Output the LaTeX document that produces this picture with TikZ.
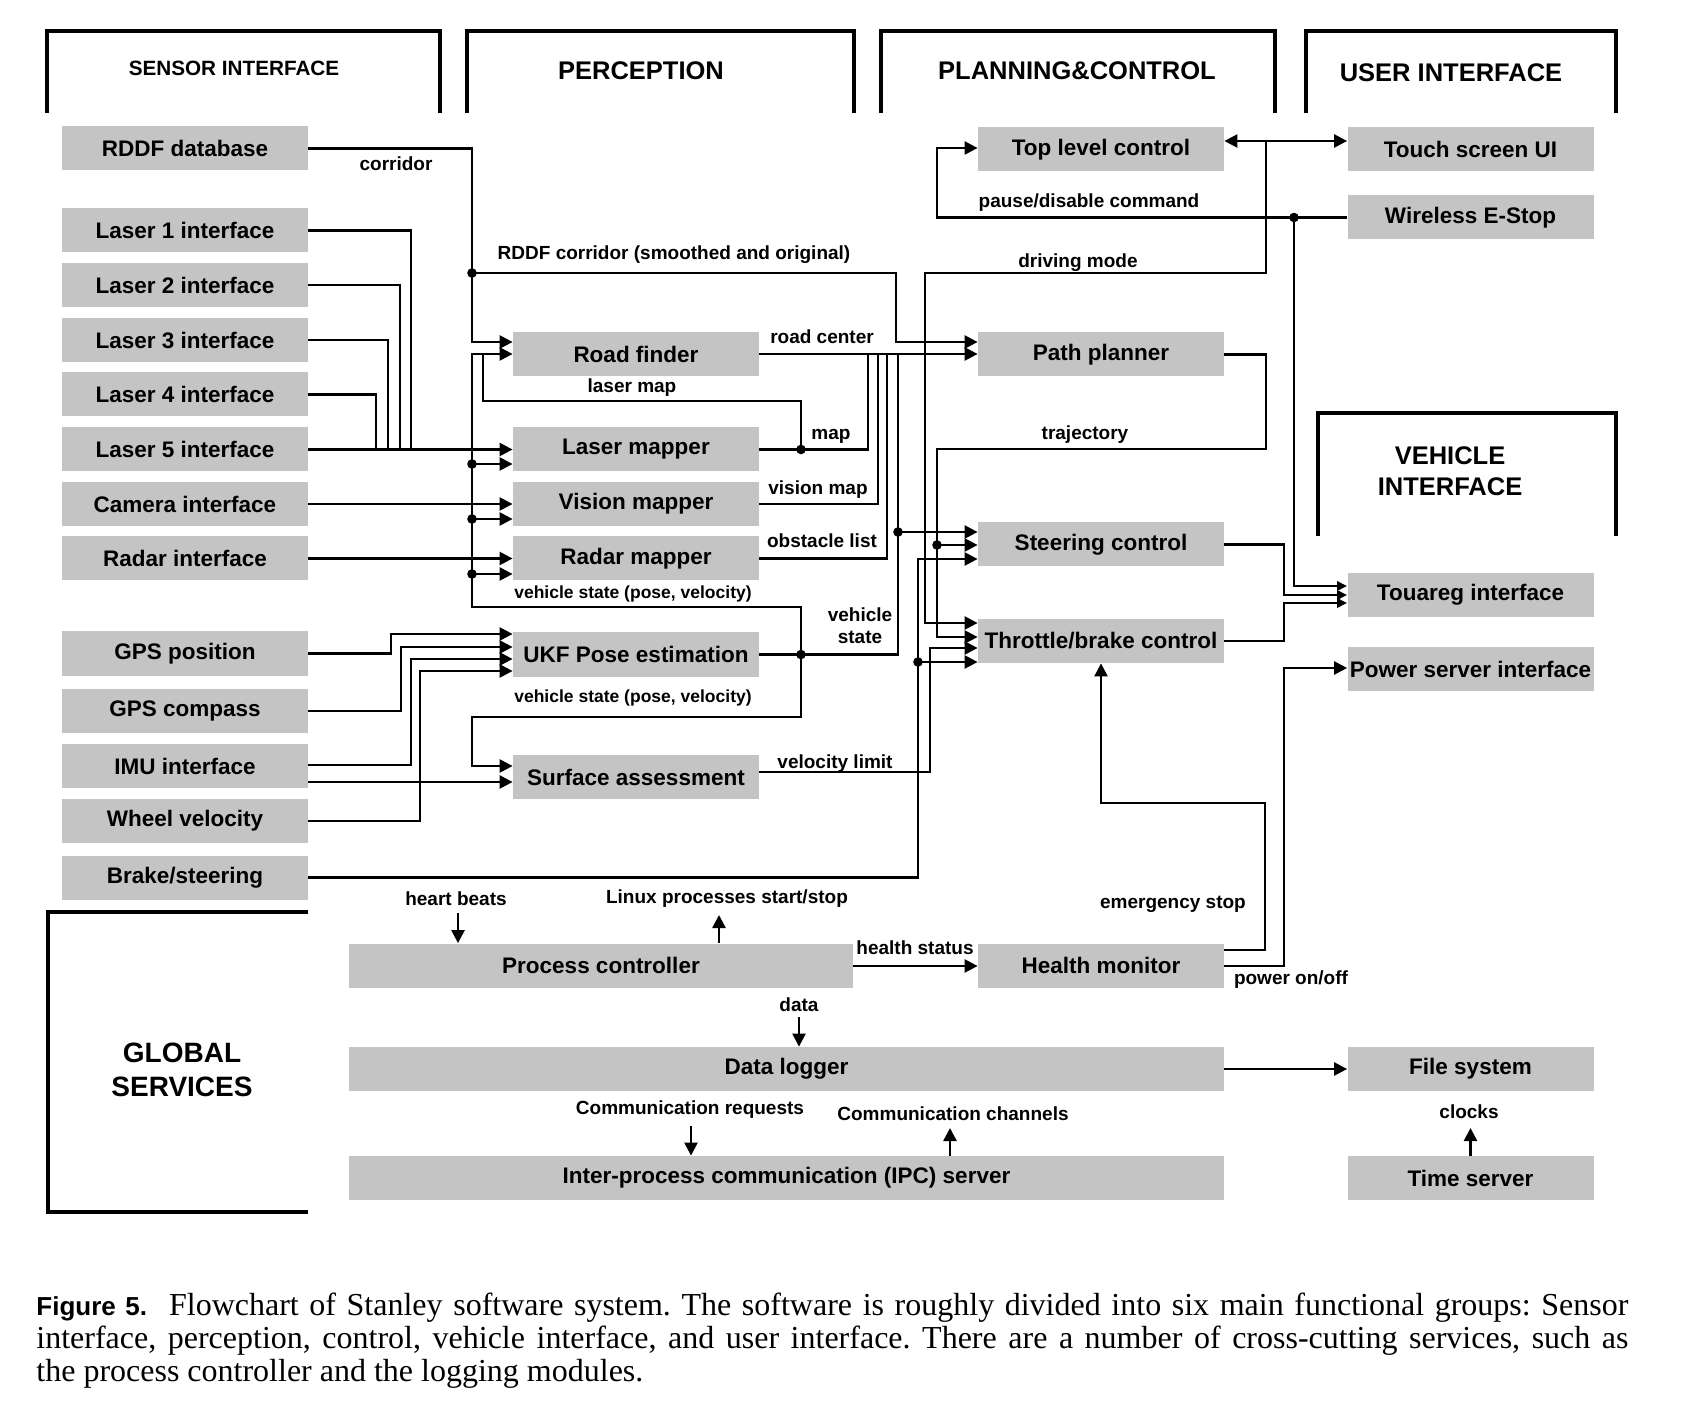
\documentclass[tikz,border=0pt]{standalone}
\usepackage{fontspec}
\setsansfont{Liberation Sans}
\newfontfamily\capserif{Liberation Serif}
\usetikzlibrary{arrows.meta,calc}
\definecolor{boxgray}{RGB}{196,196,196}
\begin{document}
\frenchspacing
\begin{tikzpicture}[x=0.5pt,y=-0.5pt,
  box/.style={fill=boxgray, inner sep=0pt, minimum height=22pt, minimum width=123pt,
    font=\sffamily\bfseries\fontsize{11.25}{13}\selectfont},
  wbox/.style={box, minimum width=437.5pt},
  hdr/.style={inner sep=0pt, font=\sffamily\bfseries\fontsize{12.75}{15.5}\selectfont},
  lbl/.style={inner sep=0pt, font=\sffamily\bfseries\fontsize{9.5}{11}\selectfont},
  slbl/.style={inner sep=0pt, font=\sffamily\bfseries\fontsize{8.75}{11}\selectfont},
  ln/.style={line width=1.2pt, black},
  arr/.style={ln, -{Triangle[length=6.5pt,width=6.5pt]}},
  sarr/.style={ln, -{Triangle[length=5pt,width=4.6pt]}},
  dbl/.style={ln, {Triangle[length=6.5pt,width=6.5pt]}-{Triangle[length=6.5pt,width=6.5pt]}},
  brk/.style={line width=2pt, black}
]
\useasboundingbox (0,0) rectangle (1688,1428);

% group brackets
\draw[brk] (47,113) -- (47,31) -- (440,31) -- (440,113);
\draw[brk] (467,113) -- (467,31) -- (854,31) -- (854,113);
\draw[brk] (881,113) -- (881,31) -- (1275,31) -- (1275,113);
\draw[brk] (1306,113) -- (1306,31) -- (1616,31) -- (1616,113);
\draw[brk] (1318,536) -- (1318,413) -- (1616,413) -- (1616,536);
\draw[brk] (308,912) -- (48,912) -- (48,1212) -- (308,1212);

\node[hdr, font=\sffamily\bfseries\fontsize{10.35}{12}\selectfont] (hsens) at (234,68) {SENSOR INTERFACE};
\node[hdr] (hperc) at (641,71) {PERCEPTION};
\node[hdr] (hplan) at (1077,71) {PLANNING\&CONTROL};
\node[hdr] (hui) at (1451,73) {USER INTERFACE};
\node[hdr, align=center] (hveh) at (1450,471) {VEHICLE\\INTERFACE};
\node[hdr, align=center, font=\sffamily\bfseries\fontsize{14}{17}\selectfont] (hglob) at (182,1070) {GLOBAL\\SERVICES};

% sensor interface
\node[box] (rddf) at (185,148.5) {RDDF database};
\node[box] (l1) at (185,230.5) {Laser 1 interface};
\node[box] (l2) at (185,285) {Laser 2 interface};
\node[box] (l3) at (185,340) {Laser 3 interface};
\node[box] (l4) at (185,394.5) {Laser 4 interface};
\node[box] (l5) at (185,449.5) {Laser 5 interface};
\node[box] (cam) at (185,504) {Camera interface};
\node[box] (radar) at (185,558.5) {Radar interface};
\node[box] (gpsp) at (185,653.5) {GPS position};
\node[box] (gpsc) at (185,711) {GPS compass};
\node[box] (imu) at (185,766) {IMU interface};
\node[box] (wheel) at (185,821) {Wheel velocity};
\node[box] (brake) at (185,877.5) {Brake/steering};

% perception
\node[box] (road) at (636,354) {Road finder};
\node[box] (lmap) at (636,449.5) {Laser mapper};
\node[box] (vmap) at (636,504) {Vision mapper};
\node[box] (rmap) at (636,558.5) {Radar mapper};
\node[box] (ukf) at (636,654.5) {UKF Pose estimation};
\node[box] (surf) at (636,777) {Surface assessment};

% planning & control
\node[box] (top) at (1101,149.5) {Top level control};
\node[box] (path) at (1101,354.5) {Path planner};
\node[box] (steer) at (1101,544.5) {Steering control};
\node[box] (throttle) at (1101,641) {Throttle/brake control};
\node[box] (health) at (1101,965.5) {Health monitor};

% user / vehicle interface
\node[box] (touch) at (1470.5,149.5) {Touch screen UI};
\node[box] (estop) at (1470.5,217.5) {Wireless E-Stop};
\node[box] (touareg) at (1470.5,595) {Touareg interface};
\node[box] (power) at (1470.5,669) {Power server interface};
\node[box] (files) at (1470.5,1069) {File system};
\node[box] (time) at (1470.5,1178) {Time server};

% global services
\node[box, minimum width=252pt] (proc) at (601,965.5) {Process controller};
\node[wbox] (logger) at (786.5,1069) {Data logger};
\node[wbox] (ipc) at (786.5,1178) {Inter-process communication (IPC) server};

% labels
\node[lbl] (tcorr) at (396,164) {corridor};
\node[lbl] (trddf) at (674,255) {RDDF corridor (smoothed and original)};
\node[lbl] (tdrive) at (1078,263) {driving mode};
\node[lbl] (tpause) at (1089,203) {pause/disable command};
\node[lbl] (troad) at (822,337) {road center};
\node[lbl] (tlmap) at (632,388) {laser map};
\node[lbl] (tmap) at (831,436) {map};
\node[lbl] (tvis) at (818,490) {vision map};
\node[lbl] (tobs) at (822,541) {obstacle list};
\node[slbl] (tvs1) at (633,594) {vehicle state (pose, velocity)};
\node[lbl, align=center] (tvs) at (860,626) {vehicle\\state};
\node[slbl] (tvs2) at (633,698) {vehicle state (pose, velocity)};
\node[lbl] (ttraj) at (1085,435) {trajectory};
\node[lbl] (tvel) at (835,764) {velocity limit};
\node[lbl] (thb) at (456,899) {heart beats};
\node[lbl] (tlinux) at (727,899) {Linux processes start/stop};
\node[lbl] (thealth) at (915,948) {health status};
\node[lbl] (temerg) at (1173,904) {emergency stop};
\node[lbl] (tpower) at (1291,980) {power on/off};
\node[lbl] (tdata) at (799,1005) {data};
\node[lbl] (treq) at (690,1110) {Communication requests};
\node[lbl] (tchan) at (953,1114) {Communication channels};
\node[lbl] (tclk) at (1469,1112) {clocks};

% corridor
\draw[arr] (rddf.east) -| (472,342) -- (road.west |- 0,342);
\draw[arr] (472,273) -| (896,342) -- (path.west |- 0,342);

% lasers
\draw[ln] (l1.east) -| (411,449.5);
\draw[ln] (l2.east) -| (400,449.5);
\draw[ln] (l3.east) -| (388,449.5);
\draw[ln] (l4.east) -| (376,449.5);
\draw[arr] (l5.east) -- (lmap.west);
\draw[arr] (cam.east) -- (vmap.west);
\draw[arr] (radar.east) -- (rmap.west);

% vehicle state bus
\draw[ln] (ukf.east) -- (898,654.5) -- (898,354);
\draw[arr] (801,654.5) |- (472,607) |- (road.west |- 0,354);
\draw[arr] (472,464) -- (lmap.west |- 0,464);
\draw[arr] (472,519) -- (vmap.west |- 0,519);
\draw[arr] (472,574) -- (rmap.west |- 0,574);
\draw[arr] (801,654.5) |- (472,717) |- (surf.west |- 0,766);

% maps to road center line
\draw[ln] (lmap.east) -| (868,354);
\draw[ln] (801,449.5) |- (483,401) -- (483,354);
\draw[ln] (vmap.east) -| (878,354);
\draw[ln] (rmap.east) -| (887,354);
\draw[arr] (road.east) -- (road.east -| path.west);

% pose inputs
\draw[arr] (gpsp.east) -| (391,634) -- (ukf.west |- 0,634);
\draw[arr] (gpsc.east) -| (401,647) -- (ukf.west |- 0,647);
\draw[arr] (imu.east |- 0,765) -| (411,659) -- (ukf.west |- 0,659);
\draw[arr] (wheel.east) -| (420,671) -- (ukf.west |- 0,671);
\draw[arr] (imu.east |- 0,782) -- (surf.west |- 0,782);

% control inputs
\draw[arr] (898,532) -- (steer.west |- 0,532);
\draw[arr] (1266,141) |- (925,273) |- (throttle.west |- 0,623);
\draw[arr] (path.east) -| (1266,449) -| (937,637) -- (throttle.west |- 0,637);
\draw[arr] (937,545) -- (steer.west |- 0,545);
\draw[arr] (brake.east) -| (918,559) -- (steer.west |- 0,559);
\draw[arr] (918,662) -- (throttle.west |- 0,662);
\draw[arr] (surf.east |- 0,772) -| (930,648) -- (throttle.west |- 0,648);

% user interface
\draw[dbl] (top.east |- 0,141) -- (touch.west |- 0,141);
\draw[arr] (estop.west) -| (937,148) -- (top.west |- 0,148);
\draw[sarr] (1294,217.5) |- (touareg.west |- 0,586);
\draw[sarr] (steer.east) -| (1284,595) -- (touareg.west |- 0,595);
\draw[sarr] (throttle.east) -| (1284,603) -- (touareg.west |- 0,603);

% health
\draw[arr] (health.east |- 0,950) -| (1265,803) -| (throttle.south);
\draw[arr] (health.east |- 0,966) -| (1284,668) -- (power.west |- 0,668);
\draw[arr] (proc.east |- 0,966) -- (health.west |- 0,966);

% global services arrows
\draw[arr] (458,913) -- (proc.north -| 458,0);
\draw[arr] (proc.north -| 719,0) -- (719,915);
\draw[arr] (799,1017) -- (logger.north -| 799,0);
\draw[arr] (691,1126) -- (ipc.north -| 691,0);
\draw[arr] (ipc.north -| 950,0) -- (950,1128);
\draw[arr] (logger.east) -- (files.west);
\draw[arr] (time.north) -- (1470.5,1128);

% junction dots
\foreach \p in {(472,273),(472,464),(472,519),(472,574),(801,449.5),(801,654.5),(898,532),(937,545),(918,662),(1294,217.5)}
  \fill \p circle (2.4pt);

% caption
\node[anchor=base west, inner sep=0pt] (cap1) at (36,1315) {\makebox[796pt][s]{\capserif\fontsize{16}{17}\selectfont{\sffamily\bfseries\fontsize{13}{15}\selectfont Figure~5.}\hspace{11pt}Flowchart of Stanley software system. The software is roughly divided into six main functional groups: Sensor}};
\node[anchor=base west, inner sep=0pt] (cap2) at (36,1348) {\makebox[796pt][s]{\capserif\fontsize{16}{17}\selectfont interface, perception, control, vehicle interface, and user interface. There are a number of cross-cutting services, such as}};
\node[anchor=base west, inner sep=0pt] (cap3) at (36,1381) {\capserif\fontsize{16}{17}\selectfont the process controller and the logging modules.};
\end{tikzpicture}
\end{document}
